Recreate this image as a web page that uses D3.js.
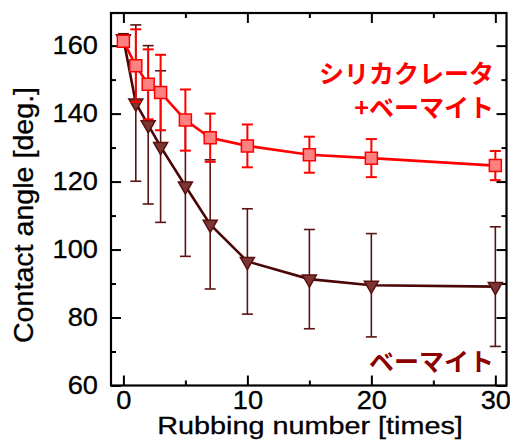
<!DOCTYPE html>
<html>
<head>
<meta charset="utf-8">
<script src="https://cdn.jsdelivr.net/npm/d3@7"></script>
<style>
  body { margin: 0; background: #fff; }
  svg { display: block; }
  text { font-family: "Liberation Sans", Arial, sans-serif; }
  .jp { font-family: "Noto Sans CJK JP", sans-serif; font-weight: bold; }
</style>
</head>
<body>
<svg></svg>
<script>
// rubbing count (x) and contact angle readings
let rubbing = [0, 1, 2, 3, 5, 7, 10, 15, 20, 30]
let compositeMean = [161.3, 154.1, 148.6, 146.2, 138.1, 132.9, 130.5, 127.9, 126.9, 124.7]
let compositeErr = [1.2, 10.7, 10.3, 11.1, 9.0, 7.1, 6.3, 5.3, 5.6, 4.3]
let boehmiteMean = [162.0, 143.1, 136.7, 130.3, 118.7, 107.4, 96.5, 91.3, 89.5, 89.1]
let boehmiteErr = [1.5, 23.0, 23.3, 22.3, 20.7, 19.0, 15.5, 14.6, 15.2, 17.6]

let xTicks = [0, 10, 20, 30]
let xMinor = [5, 15, 25]
let yTicks = [60, 80, 100, 120, 140, 160]
let yMinor = [70, 90, 110, 130, 150]

let width = 510
let height = 443
let padL = 111, padR = 506.5, padT = 13, padB = 385.5

let svg = d3.select('svg').attr('width', width).attr('height', height)

let xScale = d3.scaleLinear().domain([-1, 30.9]).range([padL, padR])
let yScale = d3.scaleLinear().domain([60, 169.6]).range([padB, padT])

// ticks, pointing inward on all four sides
let tickAxis = (axis, vals, size, tx, ty, labels) => {
    let g = svg.append('g')
       .attr('transform', 'translate(' + tx + ',' + ty + ')')
       .call(axis.tickValues(vals).tickSizeInner(size).tickSizeOuter(0)
                 .tickFormat(labels ? d3.format('d') : ''))
    g.select('.domain').remove()
    g.selectAll('line').attr('stroke', '#000').attr('stroke-width', 2)
    return g
}

let xb = tickAxis(d3.axisBottom(xScale).tickPadding(6), xTicks, -10, 0, padB, true)
tickAxis(d3.axisBottom(xScale), xMinor, -5, 0, padB, false)
tickAxis(d3.axisTop(xScale), xTicks, -10, 0, padT, false)
tickAxis(d3.axisTop(xScale), xMinor, -5, 0, padT, false)
let yl = tickAxis(d3.axisLeft(yScale).tickPadding(12), yTicks, -10, padL, 0, true)
tickAxis(d3.axisLeft(yScale), yMinor, -5, padL, 0, false)
tickAxis(d3.axisRight(yScale), yTicks, -10, padR, 0, false)
tickAxis(d3.axisRight(yScale), yMinor, -5, padR, 0, false)

xb.selectAll('text').attr('font-size', 25).attr('fill', '#000')
  .attr('stroke', '#000').attr('stroke-width', 0.3)
  .attr('transform', 'scale(1.09,1)')
yl.selectAll('text').attr('font-size', 25).attr('fill', '#000')
  .attr('stroke', '#000').attr('stroke-width', 0.3)
  .attr('transform', 'scale(1.09,1)')

svg.append('rect')
   .attr('x', padL).attr('y', padT)
   .attr('width', padR - padL).attr('height', padB - padT)
   .attr('fill', 'none').attr('stroke', '#000').attr('stroke-width', 2.2)

// axis titles
svg.append('text')
   .attr('transform', 'translate(310,434) scale(1.2,1)')
   .attr('text-anchor', 'middle')
   .attr('font-size', 24)
   .attr('stroke', '#000').attr('stroke-width', 0.3)
   .text('Rubbing number [times]')

svg.append('text')
   .attr('transform', 'translate(33,215) rotate(-90) scale(1.06,1)')
   .attr('text-anchor', 'middle')
   .attr('font-size', 27)
   .attr('stroke', '#000').attr('stroke-width', 0.3)
   .text('Contact angle [deg.]')

let series = [
    {mean: boehmiteMean, err: boehmiteErr, line: '#4a0606', bar: '#5a1414', barW: 1.6,
     fill: '#7b3535', stroke: '#5a0f0f', shape: 'tri'},
    {mean: compositeMean, err: compositeErr, line: '#ff0000', bar: '#ff0000', barW: 2,
     fill: '#ff8080', stroke: '#ff0000', shape: 'sq'}
]

let lineGen = d3.line().x((d) => xScale(d[0])).y((d) => yScale(d[1]))
let cap = 5.5

series.forEach((s) => {
    let pts = rubbing.map((r, i) => [r, s.mean[i], s.err[i]])
    let eb = svg.append('g').attr('stroke', s.bar).attr('stroke-width', s.barW)
    eb.selectAll('line.v').data(pts).enter().append('line')
      .attr('x1', (d) => xScale(d[0])).attr('x2', (d) => xScale(d[0]))
      .attr('y1', (d) => yScale(d[1] + d[2])).attr('y2', (d) => yScale(d[1] - d[2]))
    eb.selectAll('line.t').data(pts).enter().append('line')
      .attr('x1', (d) => xScale(d[0]) - cap).attr('x2', (d) => xScale(d[0]) + cap)
      .attr('y1', (d) => yScale(d[1] + d[2])).attr('y2', (d) => yScale(d[1] + d[2]))
    eb.selectAll('line.b').data(pts).enter().append('line')
      .attr('x1', (d) => xScale(d[0]) - cap).attr('x2', (d) => xScale(d[0]) + cap)
      .attr('y1', (d) => yScale(d[1] - d[2])).attr('y2', (d) => yScale(d[1] - d[2]))

    svg.append('path').datum(pts)
       .attr('d', lineGen)
       .attr('fill', 'none').attr('stroke', s.line).attr('stroke-width', 2.6)

    let sym = s.shape == 'tri'
        ? d3.symbol(d3.symbolTriangle, 85)
        : d3.symbol(d3.symbolSquare, 144)
    svg.selectAll(null).data(pts).enter().append('path')
       .attr('d', sym)
       .attr('transform', (d) => 'translate(' + xScale(d[0]) + ',' + yScale(d[1]) + ')'
             + (s.shape == 'tri' ? ' rotate(180)' : ''))
       .attr('fill', s.fill).attr('stroke', s.stroke).attr('stroke-width', 1.5)
})

// series labels
svg.append('text').attr('class', 'jp')
   .attr('x', 494).attr('y', 83).attr('text-anchor', 'end')
   .attr('font-size', 25).attr('fill', '#ff0000')
   .text('シリカクレータ')
svg.append('text').attr('class', 'jp')
   .attr('x', 494).attr('y', 117).attr('text-anchor', 'end')
   .attr('font-size', 25).attr('fill', '#ff0000')
   .text('+ベーマイト')
svg.append('text').attr('class', 'jp')
   .attr('x', 494).attr('y', 371).attr('text-anchor', 'end')
   .attr('font-size', 25).attr('fill', '#8b0000')
   .text('ベーマイト')
</script>
</body>
</html>
